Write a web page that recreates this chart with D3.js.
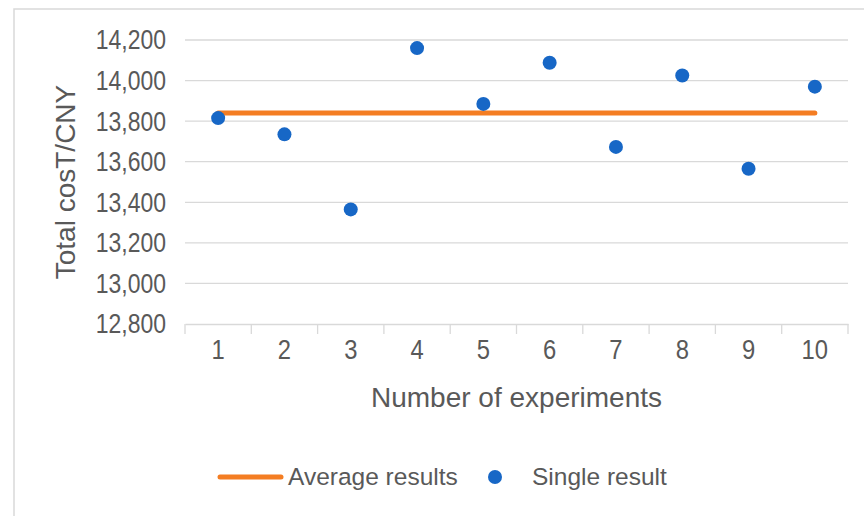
<!DOCTYPE html>
<html>
<head>
<meta charset="utf-8">
<script src="https://cdn.jsdelivr.net/npm/d3@7/dist/d3.min.js"></script>
<style>
  html, body { margin: 0; padding: 0; background: #fff; }
  svg { display: block; }
</style>
</head>
<body>
<svg id="chart" width="864" height="516"></svg>
<script>
const experiments = ["1", "2", "3", "4", "5", "6", "7", "8", "9", "10"];
const singleResults = [13815, 13735, 13365, 14160, 13885, 14088, 13673, 14025, 13565, 13970];
const averageResult = 13840;
const yTicks = [12800, 13000, 13200, 13400, 13600, 13800, 14000, 14200];
const yTitle = "Total cosT/CNY";
const xTitle = "Number of experiments";
const legendLabels = ["Average results", "Single result"];

const svg = d3.select("#chart");
const W = 864, H = 516;
const m = { left: 185, right: 848, top: 40, bottom: 324 };
const textColor = "#595959";
const gridColor = "#d9d9d9";
const orange = "#F47D22";
const blue = "#1767C6";
const font = "'Liberation Sans', Arial, sans-serif";

// condense digit labels horizontally (reference uses a narrow, tall digit face)
function condense(sel, k) {
  sel.each(function () {
    const w = this.getComputedTextLength();
    d3.select(this).attr("textLength", w * k).attr("lengthAdjust", "spacingAndGlyphs");
  });
}

// outer frame (top and left edges visible)
svg.append("path")
  .attr("d", `M14,${H} L14,9 L${W},9`)
  .attr("fill", "none").attr("stroke", gridColor).attr("stroke-width", 1.5);

const x = d3.scaleBand().domain(experiments).range([m.left, m.right]).padding(0);
const y = d3.scaleLinear().domain([12800, 14200]).range([m.bottom, m.top]);

// gridlines
svg.append("g")
  .selectAll("line")
  .data(yTicks.filter(t => t !== 12800))
  .join("line")
  .attr("x1", m.left).attr("x2", m.right)
  .attr("y1", d => y(d)).attr("y2", d => y(d))
  .attr("stroke", gridColor).attr("stroke-width", 1.3);

// y axis labels
const yAxis = svg.append("g")
  .attr("transform", `translate(${m.left},0)`)
  .call(d3.axisLeft(y).tickValues(yTicks).tickSize(0).tickPadding(19).tickFormat(d3.format(",")));
yAxis.select(".domain").remove();
yAxis.selectAll("text")
  .attr("fill", textColor)
  .style("font-family", font)
  .style("font-size", "28px")
  .call(condense, 0.82);

// x axis
const xAxis = svg.append("g")
  .attr("transform", `translate(0,${m.bottom})`)
  .call(d3.axisBottom(x).tickSize(0).tickPadding(15));
xAxis.select(".domain").attr("stroke", gridColor).attr("stroke-width", 1.3);
xAxis.selectAll("text")
  .attr("fill", textColor)
  .style("font-family", font)
  .style("font-size", "28px")
  .call(condense, 0.85);
// category boundary ticks
const bounds = experiments.map(d => x(d)).concat([x(experiments[experiments.length - 1]) + x.bandwidth()]);
svg.append("g")
  .selectAll("line")
  .data(bounds)
  .join("line")
  .attr("x1", d => d).attr("x2", d => d)
  .attr("y1", m.bottom).attr("y2", m.bottom + 10)
  .attr("stroke", gridColor).attr("stroke-width", 1.3);

// average line
const first = experiments[0], last = experiments[experiments.length - 1];
svg.append("line")
  .attr("x1", x(first) + x.bandwidth() / 2)
  .attr("x2", x(last) + x.bandwidth() / 2)
  .attr("y1", y(averageResult)).attr("y2", y(averageResult))
  .attr("stroke", orange).attr("stroke-width", 5).attr("stroke-linecap", "round");

// single results
svg.append("g")
  .selectAll("circle")
  .data(singleResults)
  .join("circle")
  .attr("cx", (d, i) => x(experiments[i]) + x.bandwidth() / 2)
  .attr("cy", d => y(d))
  .attr("r", 7)
  .attr("fill", blue);

// axis titles
svg.append("text")
  .attr("x", (m.left + m.right) / 2).attr("y", 407)
  .attr("text-anchor", "middle")
  .attr("fill", textColor)
  .style("font-family", font).style("font-size", "28px")
  .text(xTitle);

svg.append("text")
  .attr("transform", `translate(75,${(m.top + m.bottom) / 2}) rotate(-90)`)
  .attr("text-anchor", "middle")
  .attr("fill", textColor)
  .style("font-family", font).style("font-size", "28px")
  .text(yTitle);

// legend
const lg = svg.append("g");
lg.append("line")
  .attr("x1", 220).attr("x2", 281).attr("y1", 477).attr("y2", 477)
  .attr("stroke", orange).attr("stroke-width", 5).attr("stroke-linecap", "round");
lg.append("text")
  .attr("x", 288).attr("y", 485)
  .attr("fill", textColor)
  .style("font-family", font).style("font-size", "24.5px")
  .text(legendLabels[0]);
lg.append("circle")
  .attr("cx", 495).attr("cy", 477).attr("r", 7).attr("fill", blue);
lg.append("text")
  .attr("x", 532).attr("y", 485)
  .attr("fill", textColor)
  .style("font-family", font).style("font-size", "24.5px")
  .text(legendLabels[1]);
</script>
</body>
</html>
